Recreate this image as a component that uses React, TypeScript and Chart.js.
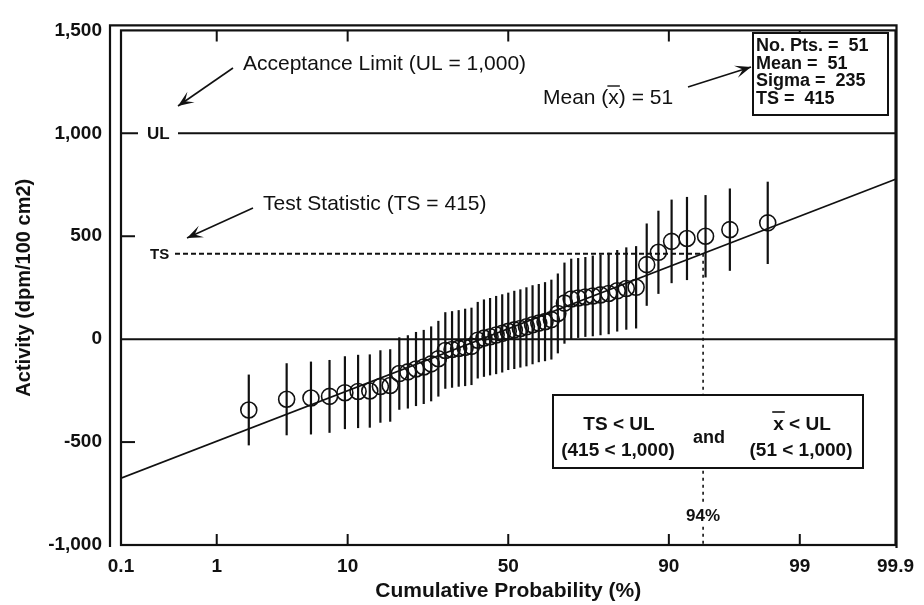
import React, { useEffect, useRef } from "react";
import { Chart, registerables } from "chart.js";

Chart.register(...registerables);

// ---------- data ----------
const cumulativePct = [1.92, 3.85, 5.77, 7.69, 9.62, 11.54, 13.46, 15.38, 17.31, 19.23, 21.15, 23.08, 25.0, 26.92, 28.85, 30.77, 32.69, 34.62, 36.54, 38.46, 40.38, 42.31, 44.23, 46.15, 48.08, 50.0, 51.92, 53.85, 55.77, 57.69, 59.62, 61.54, 63.46, 65.38, 67.31, 69.23, 71.15, 73.08, 75.0, 76.92, 78.85, 80.77, 82.69, 84.62, 86.54, 88.46, 90.38, 92.31, 94.23, 96.15, 98.08];
const activity = [-344, -292, -286, -278, -260, -254, -252, -230, -225, -167, -159, -145, -135, -120, -95, -55, -50, -45, -40, -35, -5, 5, 12, 20, 28, 38, 45, 52, 60, 70, 78, 85, 95, 125, 175, 195, 200, 205, 210, 215, 222, 235, 246, 252, 362, 422, 475, 489, 500, 532, 565];
const uncertainty = [172, 175, 177, 177, 177, 178, 178, 176, 176, 176, 178, 180, 180, 182, 184, 186, 186, 186, 188, 188, 186, 188, 188, 190, 190, 188, 190, 190, 192, 192, 190, 192, 194, 194, 197, 196, 194, 194, 196, 196, 198, 198, 200, 200, 200, 202, 203, 202, 200, 200, 200];

const fitPct = [0.1, 99.9];
const fitValues = [-675, 777];

const xTickPct = [0.1, 1, 10, 50, 90, 99, 99.9];
const xTickLabels = ["0.1", "1", "10", "50", "90", "99", "99.9"];
const yTickValues = [-1000, -500, 0, 500, 1000, 1500];
const yTickLabels = ["-1,000", "-500", "0", "500", "1,000", "1,500"];

const UL = 1000;
const TS = 415;
const TS_PCT = 94;
const statLines = ["No. Pts. =  51", "Mean =  51", "Sigma =  235", "TS =  415"];

// ---------- helpers ----------
function probit(p: number): number {
  const a = [-3.969683028665376e1, 2.209460984245205e2, -2.759285104469687e2, 1.38357751867269e2, -3.066479806614716e1, 2.506628277459239];
  const b = [-5.447609879822406e1, 1.615858368580409e2, -1.556989798598866e2, 6.680131188771972e1, -1.328068155288572e1];
  const c = [-7.784894002430293e-3, -3.223964580411365e-1, -2.400758277161838, -2.549732539343734, 4.374664141464968, 2.938163982698783];
  const d = [7.784695709041462e-3, 3.224671290700398e-1, 2.445134137142996, 3.754408661907416];
  const pl = 0.02425;
  const ph = 1 - pl;
  if (p < pl) {
    const q = Math.sqrt(-2 * Math.log(p));
    return (((((c[0] * q + c[1]) * q + c[2]) * q + c[3]) * q + c[4]) * q + c[5]) / ((((d[0] * q + d[1]) * q + d[2]) * q + d[3]) * q + 1);
  }
  if (p <= ph) {
    const q = p - 0.5;
    const r = q * q;
    return ((((((a[0] * r + a[1]) * r + a[2]) * r + a[3]) * r + a[4]) * r + a[5]) * q) / (((((b[0] * r + b[1]) * r + b[2]) * r + b[3]) * r + b[4]) * r + 1);
  }
  const q = Math.sqrt(-2 * Math.log(1 - p));
  return -(((((c[0] * q + c[1]) * q + c[2]) * q + c[3]) * q + c[4]) * q + c[5]) / ((((d[0] * q + d[1]) * q + d[2]) * q + d[3]) * q + 1);
}
const z = (pct: number) => probit(pct / 100);

const INK = "#111";
const FONT = '"Liberation Sans", Arial, Helvetica, sans-serif';

function arrow(ctx: CanvasRenderingContext2D, x1: number, y1: number, x2: number, y2: number) {
  ctx.save();
  ctx.strokeStyle = INK;
  ctx.fillStyle = INK;
  ctx.lineWidth = 1.6;
  ctx.beginPath();
  ctx.moveTo(x1, y1);
  ctx.lineTo(x2, y2);
  ctx.stroke();
  const ang = Math.atan2(y2 - y1, x2 - x1);
  const L = 17;
  const w = 0.38;
  ctx.beginPath();
  ctx.moveTo(x2, y2);
  ctx.lineTo(x2 - L * Math.cos(ang - w), y2 - L * Math.sin(ang - w));
  ctx.lineTo(x2 - 0.5 * L * Math.cos(ang), y2 - 0.5 * L * Math.sin(ang));
  ctx.lineTo(x2 - L * Math.cos(ang + w), y2 - L * Math.sin(ang + w));
  ctx.closePath();
  ctx.fill();
  ctx.restore();
}

function overlineText(ctx: CanvasRenderingContext2D, text: string, cx: number, cy: number, barChar: string) {
  // draws centered text, with an overline above the first occurrence of barChar
  const w = ctx.measureText(text).width;
  const left = cx - w / 2;
  ctx.textAlign = "left";
  ctx.fillText(text, left, cy);
  const idx = text.indexOf(barChar);
  if (idx >= 0) {
    const x0 = left + ctx.measureText(text.slice(0, idx)).width;
    const cw = ctx.measureText(barChar).width;
    return { x0, x1: x0 + cw };
  }
  return null;
}

const backgroundLines = {
  id: "backgroundLines",
  beforeDatasetsDraw(chart: any) {
    const { ctx, chartArea: ca, scales } = chart;
    const x = scales.x;
    const y = scales.y;
    ctx.save();
    ctx.strokeStyle = INK;
    // zero line
    ctx.lineWidth = 2;
    const y0 = y.getPixelForValue(0);
    ctx.beginPath();
    ctx.moveTo(ca.left, y0);
    ctx.lineTo(ca.right, y0);
    ctx.stroke();
    // UL line (with gap for the label)
    const yUL = y.getPixelForValue(UL);
    ctx.beginPath();
    ctx.moveTo(ca.left, yUL);
    ctx.lineTo(ca.left + 17, yUL);
    ctx.moveTo(ca.left + 57, yUL);
    ctx.lineTo(ca.right, yUL);
    ctx.stroke();
    // inward y ticks
    [500, -500].forEach((v) => {
      const py = y.getPixelForValue(v);
      ctx.beginPath();
      ctx.moveTo(ca.left, py);
      ctx.lineTo(ca.left + 14, py);
      ctx.stroke();
    });
    // inward x ticks (top and bottom)
    xTickPct.slice(1, -1).forEach((p) => {
      const px = x.getPixelForValue(z(p));
      ctx.beginPath();
      ctx.moveTo(px, ca.bottom);
      ctx.lineTo(px, ca.bottom - 11);
      ctx.moveTo(px, ca.top);
      ctx.lineTo(px, ca.top + 11);
      ctx.stroke();
    });
    // TS dashed line
    const yTS = y.getPixelForValue(TS);
    const xTS = x.getPixelForValue(z(TS_PCT));
    ctx.lineWidth = 1.8;
    ctx.setLineDash([5, 3]);
    ctx.beginPath();
    ctx.moveTo(ca.left + 54, yTS);
    ctx.lineTo(xTS, yTS);
    ctx.stroke();
    // vertical dotted line at 94%
    ctx.setLineDash([3, 4]);
    ctx.lineWidth = 1.6;
    ctx.beginPath();
    ctx.moveTo(xTS, yTS);
    ctx.lineTo(xTS, ca.bottom);
    ctx.stroke();
    ctx.setLineDash([]);
    // error bars
    ctx.lineWidth = 2.2;
    cumulativePct.forEach((p, i) => {
      const px = x.getPixelForValue(z(p));
      ctx.beginPath();
      ctx.moveTo(px, y.getPixelForValue(activity[i] - uncertainty[i]));
      ctx.lineTo(px, y.getPixelForValue(activity[i] + uncertainty[i]));
      ctx.stroke();
    });
    ctx.restore();
  },
  afterDraw(chart: any) {
    const { ctx, chartArea: ca, scales } = chart;
    const x = scales.x;
    const y = scales.y;
    ctx.save();
    ctx.strokeStyle = INK;
    ctx.fillStyle = INK;

    // frames
    ctx.lineWidth = 2.2;
    ctx.strokeRect(ca.left, ca.top, ca.right - ca.left, ca.bottom - ca.top);
    ctx.beginPath();
    ctx.moveTo(ca.left - 11, ca.bottom + 2);
    ctx.lineTo(ca.left - 11, ca.top - 5);
    ctx.lineTo(ca.right + 1, ca.top - 5);
    ctx.lineTo(ca.right + 1, ca.bottom + 3);
    ctx.stroke();

    // UL / TS labels
    ctx.textBaseline = "middle";
    ctx.textAlign = "left";
    ctx.font = `bold 17px ${FONT}`;
    ctx.fillText("UL", ca.left + 26, y.getPixelForValue(UL) + 1);
    ctx.font = `bold 15px ${FONT}`;
    ctx.fillText("TS", ca.left + 29, y.getPixelForValue(TS) + 1);

    // annotation texts
    ctx.textBaseline = "alphabetic";
    ctx.font = `21px ${FONT}`;
    ctx.fillText("Acceptance Limit (UL = 1,000)", 243, 70);
    arrow(ctx, 233, 68, 178, 106);
    ctx.fillText("Test Statistic (TS = 415)", 263, 210);
    arrow(ctx, 253, 208, 187, 238);

    const meanTxt = "Mean (x) = 51";
    const mw = ctx.measureText(meanTxt).width;
    const ov = overlineText(ctx, meanTxt, 543 + mw / 2, 104, "x");
    if (ov) {
      ctx.lineWidth = 1.4;
      ctx.beginPath();
      ctx.moveTo(ov.x0 - 1, 86);
      ctx.lineTo(ov.x1 + 1, 86);
      ctx.stroke();
    }
    arrow(ctx, 688, 87, 751, 67);

    // stats box
    ctx.lineWidth = 2;
    ctx.fillStyle = "#fff";
    ctx.fillRect(753, 33, 135, 82);
    ctx.strokeRect(753, 33, 135, 82);
    ctx.fillStyle = INK;
    ctx.font = `bold 18px ${FONT}`;
    ctx.textAlign = "left";
    statLines.forEach((s, i) => {
      ctx.fillText(s, 756, 51 + i * 17.5);
    });

    // 94% label
    const xTS = x.getPixelForValue(z(TS_PCT));
    ctx.font = `bold 17px ${FONT}`;
    ctx.textAlign = "center";
    ctx.textBaseline = "middle";
    const lw = ctx.measureText("94%").width;
    ctx.fillStyle = "#fff";
    ctx.fillRect(xTS - lw / 2 - 2, 505, lw + 4, 21);
    ctx.fillStyle = INK;
    ctx.fillText("94%", xTS, 516);

    // result box
    ctx.fillStyle = "#fff";
    ctx.fillRect(553, 395, 310, 73);
    ctx.lineWidth = 2;
    ctx.strokeRect(553, 395, 310, 73);
    ctx.fillStyle = INK;
    ctx.font = `bold 19px ${FONT}`;
    ctx.textBaseline = "middle";
    ctx.textAlign = "center";
    ctx.fillText("TS < UL", 619, 425);
    ctx.fillText("(415 < 1,000)", 618, 451);
    ctx.fillText("(51 < 1,000)", 801, 451);
    ctx.font = `bold 18px ${FONT}`;
    ctx.fillText("and", 709, 438);
    ctx.font = `bold 19px ${FONT}`;
    const ov2 = overlineText(ctx, "x < UL", 802, 425, "x");
    if (ov2) {
      ctx.lineWidth = 1.6;
      ctx.beginPath();
      ctx.moveTo(ov2.x0 - 1, 412);
      ctx.lineTo(ov2.x1 + 1, 412);
      ctx.stroke();
    }
    ctx.restore();
  },
};

export default function App() {
  const ref = useRef<HTMLCanvasElement | null>(null);
  useEffect(() => {
    if (!ref.current) return;
    const chart = new Chart(ref.current, {
      type: "scatter",
      data: {
        datasets: [
          {
            type: "line",
            data: fitPct.map((p, i) => ({ x: z(p), y: fitValues[i] })),
            borderColor: INK,
            borderWidth: 1.8,
            pointRadius: 0,
            fill: false,
          } as any,
          {
            data: cumulativePct.map((p, i) => ({ x: z(p), y: activity[i] })),
            pointStyle: "circle",
            pointRadius: 8,
            borderColor: INK,
            borderWidth: 1.6,
            backgroundColor: "rgba(0,0,0,0)",
            showLine: false,
          },
        ],
      },
      options: {
        responsive: false,
        animation: false,
        devicePixelRatio: 1,
        layout: { padding: { left: 0, right: 23, top: 20, bottom: 0 } },
        plugins: { legend: { display: false }, tooltip: { enabled: false } },
        scales: {
          x: {
            type: "linear",
            min: z(xTickPct[0]),
            max: z(xTickPct[xTickPct.length - 1]),
            grid: { display: false, drawTicks: false, tickLength: 0 },
            border: { display: false },
            afterBuildTicks: (s: any) => {
              s.ticks = xTickPct.map((p) => ({ value: z(p) }));
            },
            afterFit: (s: any) => {
              s.height = 60;
            },
            ticks: {
              autoSkip: false,
              maxRotation: 0,
              padding: 10,
              color: INK,
              font: { family: FONT, size: 19, weight: "bold" },
              callback: (_v: any, i: number) => xTickLabels[i],
            },
            title: {
              display: true,
              text: "Cumulative Probability (%)",
              color: INK,
              font: { family: FONT, size: 21, weight: "bold" },
              padding: { top: 0, bottom: 1 },
            },
          },
          y: {
            type: "linear",
            min: yTickValues[0],
            max: yTickValues[yTickValues.length - 1],
            grid: { display: false, drawTicks: false, tickLength: 0 },
            border: { display: false },
            afterBuildTicks: (s: any) => {
              s.ticks = yTickValues.map((v) => ({ value: v }));
            },
            afterFit: (s: any) => {
              s.width = 121;
            },
            ticks: {
              autoSkip: false,
              padding: 19,
              color: INK,
              font: { family: FONT, size: 19, weight: "bold" },
              callback: (_v: any, i: number) => yTickLabels[i],
            },
            title: {
              display: true,
              text: "Activity (dpm/100 cm2)",
              color: INK,
              font: { family: FONT, size: 20, weight: "bold" },
              padding: { top: 12, bottom: 0 },
            },
          },
        },
      },
      plugins: [backgroundLines],
    });
    return () => chart.destroy();
  }, []);
  return (
    <div style={{ position: "absolute", left: 0, top: 0, width: 924, height: 605, background: "#fff" }}>
      <canvas ref={ref} width={924} height={605} style={{ width: 924, height: 605, display: "block" }} />
    </div>
  );
}
